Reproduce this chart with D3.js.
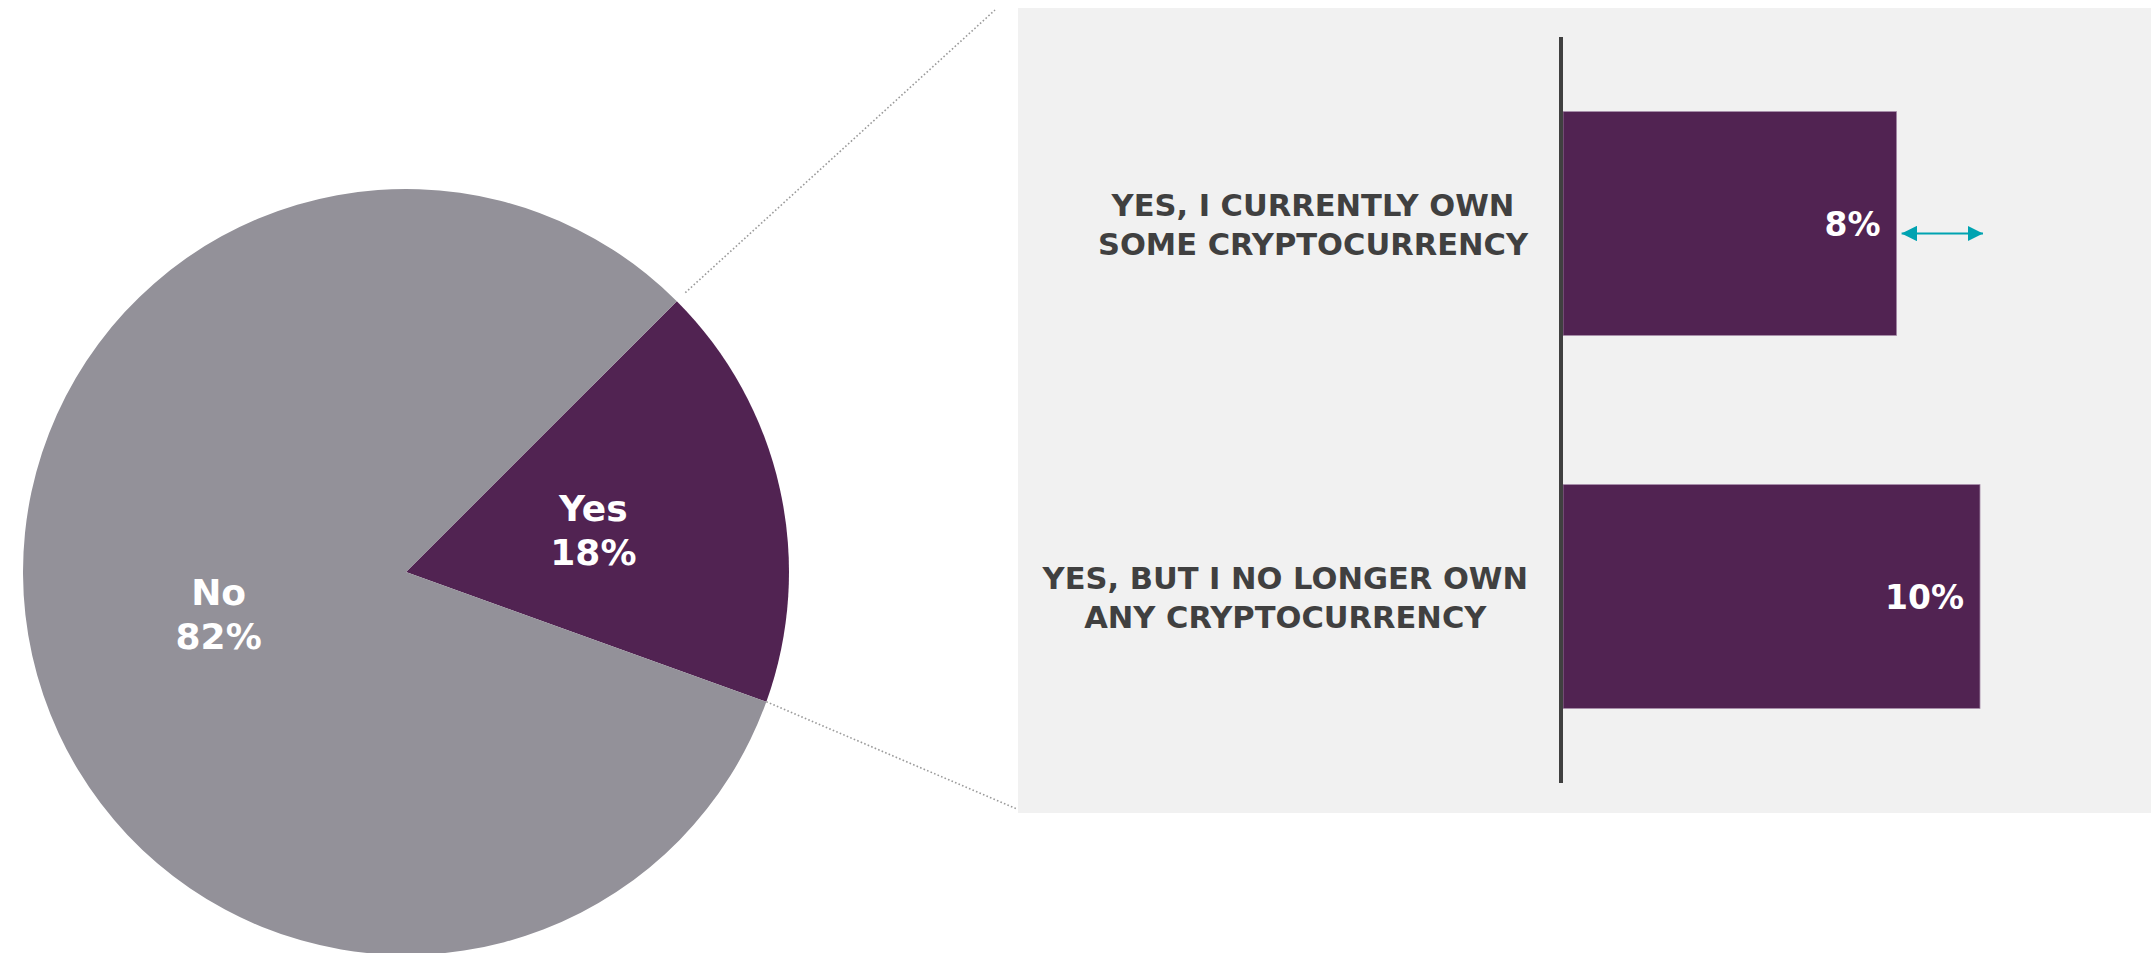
<!DOCTYPE html>
<html>
<head>
<meta charset="utf-8">
<script src="https://cdn.jsdelivr.net/npm/d3@7"></script>
<style>
  html, body { margin: 0; padding: 0; background: #ffffff; }
  svg { display: block; }
</style>
</head>
<body>
<svg id="chart" width="2151" height="953"></svg>
<script>
// Share of respondents who have ever owned cryptocurrency
const pieLabels = ["Yes", "No"];
const pieValues = [18, 82];

// Breakdown of the "Yes" share
const barCategories = [
  ["YES, I CURRENTLY OWN", "SOME CRYPTOCURRENCY"],
  ["YES, BUT I NO LONGER OWN", "ANY CRYPTOCURRENCY"]
];
const barValues = [8, 10];

const PURPLE = "#512352";
const GREY = "#939199";
const TEXT = "#404040";
const PANEL = "#f1f1f1";
const TEAL = "#00a3b1";
const FONT = "'DejaVu Sans', sans-serif";

const svg = d3.select("#chart");
const W = 2151, H = 953;

// ---- Panel behind the bar breakdown
const panel = { x0: 1018, y0: 8, x1: W, y1: 813 };
svg.append("rect")
  .attr("x", panel.x0).attr("y", panel.y0)
  .attr("width", panel.x1 - panel.x0).attr("height", panel.y1 - panel.y0)
  .attr("fill", PANEL);

// ---- Pie
const cx = 406, cy = 572, R = 383;
const pieData = pieLabels.map((l, i) => ({ label: l, value: pieValues[i] }));
const pie = d3.pie().value(d => d.value).sort(null)
  .startAngle(Math.PI / 4).endAngle(Math.PI / 4 + 2 * Math.PI);
const arcs = pie(pieData);
const arc = d3.arc().innerRadius(0).outerRadius(R);
const labelArc = d3.arc().innerRadius(192).outerRadius(192);
const colour = d3.scaleOrdinal().domain(pieLabels).range([PURPLE, GREY]);

const gPie = svg.append("g").attr("transform", `translate(${cx},${cy})`);
gPie.selectAll("path.slice").data(arcs).join("path")
  .attr("class", "slice")
  .attr("d", arc)
  .attr("fill", d => colour(d.data.label));

const pieLab = gPie.selectAll("text.pl").data(arcs).join("text")
  .attr("class", "pl")
  .attr("transform", d => `translate(${labelArc.centroid(d)})`)
  .attr("text-anchor", "middle")
  .attr("fill", "#ffffff")
  .attr("font-family", FONT)
  .attr("font-weight", "bold")
  .attr("font-size", 36);
pieLab.append("tspan").attr("x", 0).attr("y", -9).text(d => d.data.label);
pieLab.append("tspan").attr("x", 0).attr("y", 35).text(d => d.data.value + "%");

// ---- Dotted connectors from the "Yes" slice to the panel
const yesArc = arcs[0];
const polar = (a, r) => [cx + r * Math.sin(a), cy - r * Math.cos(a)];
const pTop = polar(yesArc.startAngle, R + 12);
const pBot = polar(yesArc.endAngle, R);
const connectors = [
  [pTop, [panel.x0 - 23, panel.y0 + 2]],
  [pBot, [panel.x0 - 1, panel.y1 - 4]]
];
svg.selectAll("line.conn").data(connectors).join("line")
  .attr("class", "conn")
  .attr("x1", d => d[0][0]).attr("y1", d => d[0][1])
  .attr("x2", d => d[1][0]).attr("y2", d => d[1][1])
  .attr("stroke", "#9a9a9a")
  .attr("stroke-width", 1.6)
  .attr("stroke-dasharray", "1.6,2.2");

// ---- Bars
const axisX = 1561;
const x = d3.scaleLinear().domain([0, 10]).range([axisX + 2, 1980]);
const y = d3.scaleBand().domain(d3.range(barValues.length))
  .range([37, 783]).paddingInner(0.4).paddingOuter(0.2);

const gBars = svg.append("g");
gBars.selectAll("rect.bar").data(barValues).join("rect")
  .attr("class", "bar")
  .attr("x", x(0))
  .attr("y", (d, i) => y(i))
  .attr("width", d => x(d) - x(0))
  .attr("height", y.bandwidth())
  .attr("fill", PURPLE)
  .attr("stroke", "#a58aa8")
  .attr("stroke-width", 0.8);

gBars.selectAll("text.val").data(barValues).join("text")
  .attr("class", "val")
  .attr("x", d => x(d) - 16)
  .attr("y", (d, i) => y(i) + y.bandwidth() / 2 + 12)
  .attr("text-anchor", "end")
  .attr("fill", "#ffffff")
  .attr("font-family", FONT)
  .attr("font-weight", "bold")
  .attr("font-size", 33)
  .text(d => d + "%");

// Category labels: a two-line block right-aligned beside the axis,
// with each line centred inside the block
const labelRight = axisX - 33;
const cat = gBars.selectAll("text.cat").data(barCategories).join("text")
  .attr("class", "cat")
  .attr("text-anchor", "middle")
  .attr("fill", TEXT)
  .attr("font-family", FONT)
  .attr("font-weight", "bold")
  .attr("font-size", 30.5);
cat.each(function(lines, i) {
  const t = d3.select(this);
  const mid = y(i) + y.bandwidth() / 2;
  const spans = lines.map((ln, k) =>
    t.append("tspan").attr("y", mid - 8 + k * 39).text(ln));
  const widest = d3.max(spans, s => s.node().getComputedTextLength());
  spans.forEach(s => s.attr("x", labelRight - widest / 2));
});

// Vertical axis line
svg.append("line")
  .attr("x1", axisX).attr("x2", axisX)
  .attr("y1", y.range()[0]).attr("y2", y.range()[1])
  .attr("stroke", TEXT).attr("stroke-width", 4);

// ---- Double-headed arrow showing the gap between the two bars
const defs = svg.append("defs");
defs.append("marker")
  .attr("id", "arrow-head")
  .attr("viewBox", "0 0 10 10")
  .attr("refX", 10).attr("refY", 5)
  .attr("markerWidth", 7).attr("markerHeight", 7)
  .attr("markerUnits", "strokeWidth")
  .attr("orient", "auto-start-reverse")
  .append("path")
  .attr("d", "M0,0 L10,5 L0,10 Z")
  .attr("fill", TEAL);
const arrowY = y(0) + y.bandwidth() / 2 + 10;
svg.append("line")
  .attr("x1", x(barValues[0]) + 5)
  .attr("x2", x(barValues[1]) + 3)
  .attr("y1", arrowY).attr("y2", arrowY)
  .attr("stroke", TEAL)
  .attr("stroke-width", 2.2)
  .attr("marker-start", "url(#arrow-head)")
  .attr("marker-end", "url(#arrow-head)");
</script>
</body>
</html>
